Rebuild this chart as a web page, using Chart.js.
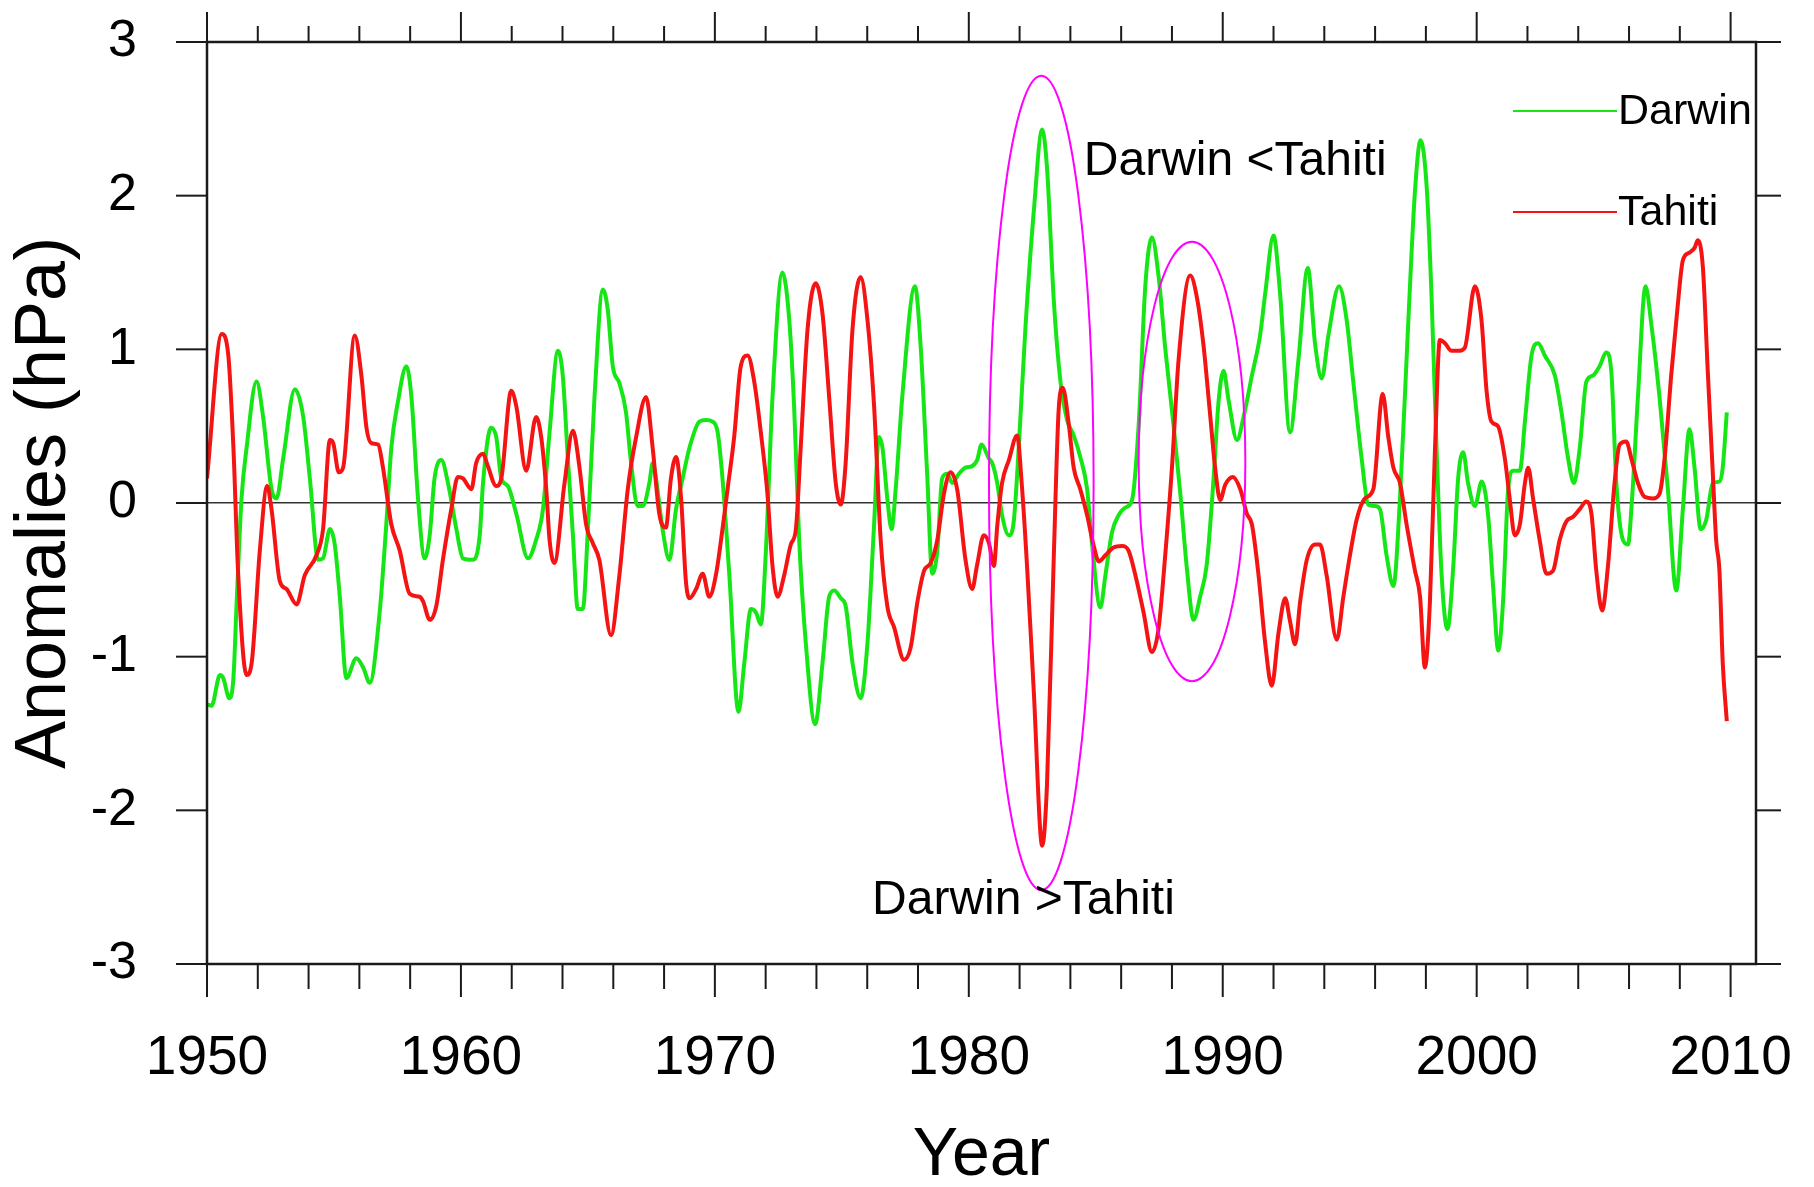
<!DOCTYPE html>
<html>
<head>
<meta charset="utf-8">
<script src="https://cdn.jsdelivr.net/npm/chart.js@4.4.1/dist/chart.umd.min.js"></script>
<style>
  html, body { margin: 0; padding: 0; background: #fff; }
  #wrap { width: 1814px; height: 1187px; }
</style>
</head>
<body>
<div id="wrap"><canvas id="chart" width="1814" height="1187"></canvas></div>
<script>
const FONT = "'Liberation Sans', Arial, Helvetica, sans-serif";

const xTicks = [1950, 1960, 1970, 1980, 1990, 2000, 2010];
const yTicks = [-3, -2, -1, 0, 1, 2, 3];

// Darwin sea level pressure anomaly (hPa)
const darwinYears = [
  1950.0, 1950.18, 1950.51, 1950.64, 1950.88, 1951.04, 1951.17, 1951.36, 1951.56, 1951.95,
  1952.21, 1952.54, 1952.74, 1953.0, 1953.46, 1953.79, 1954.05, 1954.38, 1954.57, 1954.84,
  1955.03, 1955.23, 1955.49, 1955.88, 1956.15, 1956.41, 1956.8, 1957.06, 1957.26, 1957.52,
  1957.85, 1958.05, 1958.31, 1958.57, 1958.77, 1958.96, 1959.23, 1959.49, 1959.82, 1960.08,
  1960.47, 1960.74, 1960.87, 1961.19, 1961.39, 1961.59, 1961.85, 1962.18, 1962.64, 1962.96,
  1963.23, 1963.49, 1963.82, 1964.01, 1964.21, 1964.41, 1964.6, 1964.8, 1965.0, 1965.26,
  1965.59, 1965.78, 1965.98, 1966.24, 1966.5, 1966.7, 1966.96, 1967.16, 1967.42, 1967.55,
  1967.68, 1967.94, 1968.21, 1968.47, 1968.73, 1969.0, 1969.39, 1969.65, 1969.91, 1970.11,
  1970.3, 1970.57, 1970.93, 1971.16, 1971.42, 1971.61, 1971.81, 1972.01, 1972.27, 1972.66,
  1972.93, 1973.12, 1973.32, 1973.58, 1973.95, 1974.24, 1974.5, 1974.7, 1974.96, 1975.15,
  1975.42, 1975.74, 1976.01, 1976.27, 1976.46, 1976.6, 1976.79, 1976.96, 1977.12, 1977.38,
  1977.88, 1978.1, 1978.36, 1978.56, 1978.76, 1978.95, 1979.15, 1979.35, 1979.61, 1979.87,
  1980.13, 1980.33, 1980.5, 1980.79, 1980.92, 1981.12, 1981.31, 1981.58, 1981.77, 1981.97,
  1982.23, 1982.56, 1982.89, 1983.08, 1983.35, 1983.61, 1983.87, 1984.13, 1984.39, 1984.66,
  1984.85, 1985.18, 1985.38, 1985.64, 1985.9, 1986.16, 1986.43, 1986.69, 1986.95, 1987.21,
  1987.47, 1987.74, 1988.06, 1988.33, 1988.59, 1988.85, 1989.11, 1989.37, 1989.64, 1989.83,
  1990.03, 1990.23, 1990.56, 1990.82, 1991.15, 1991.47, 1991.67, 1992.0, 1992.26, 1992.65,
  1992.98, 1993.35, 1993.64, 1993.9, 1994.16, 1994.58, 1994.88, 1995.14, 1995.47, 1995.73,
  1995.99, 1996.19, 1996.45, 1996.72, 1996.98, 1997.31, 1997.57, 1997.79, 1998.03, 1998.22,
  1998.42, 1998.62, 1998.85, 1999.08, 1999.27, 1999.47, 1999.66, 1999.93, 2000.2, 2000.45,
  2000.65, 2000.85, 2001.04, 2001.24, 2001.44, 2001.7, 2001.9, 2002.16, 2002.42, 2002.68,
  2003.08, 2003.34, 2003.6, 2003.83, 2004.06, 2004.32, 2004.58, 2004.84, 2005.1, 2005.3,
  2005.5, 2005.76, 2005.96, 2006.12, 2006.35, 2006.65, 2006.88, 2007.2, 2007.53, 2007.86,
  2008.12, 2008.38, 2008.58, 2008.82, 2009.04, 2009.3, 2009.56, 2009.69, 2009.85
];
const darwinValues = [
  -1.31, -1.32, -1.12, -1.14, -1.27, -1.14, -0.64, 0.03, 0.36, 0.79,
  0.56, 0.09, 0.03, 0.29, 0.74, 0.56, 0.16, -0.37, -0.36, -0.17,
  -0.27, -0.61, -1.14, -1.01, -1.07, -1.17, -0.71, -0.14, 0.36, 0.66,
  0.89, 0.69, 0.03, -0.36, -0.21, 0.16, 0.28, 0.13, -0.17, -0.36,
  -0.37, -0.21, 0.13, 0.49, 0.43, 0.16, 0.11, -0.07, -0.36, -0.24,
  -0.04, 0.46, 0.99, 0.83, 0.29, -0.21, -0.69, -0.69, -0.17, 0.69,
  1.39, 1.26, 0.89, 0.78, 0.59, 0.26, -0.02, -0.02, 0.13, 0.26,
  0.16, -0.17, -0.37, -0.04, 0.16, 0.36, 0.53, 0.54, 0.53, 0.46,
  0.16, -0.47, -1.36, -1.04, -0.69, -0.71, -0.79, -0.31, 0.69, 1.50,
  1.19, 0.63, -0.24, -0.91, -1.44, -1.04, -0.61, -0.57, -0.62, -0.67,
  -1.04, -1.27, -0.91, -0.14, 0.43, 0.36, 0.03, -0.17, 0.09, 0.69,
  1.41, 1.03, 0.19, -0.46, -0.31, 0.16, 0.19, 0.13, 0.19, 0.23,
  0.24, 0.28, 0.38, 0.29, 0.26, 0.13, -0.08, -0.21, -0.12, 0.37,
  1.14, 1.90, 2.43, 2.18, 1.31, 0.79, 0.54, 0.44, 0.30, 0.09,
  -0.26, -0.68, -0.47, -0.19, -0.08, -0.03, 0.02, 0.51, 1.41, 1.73,
  1.48, 1.00, 0.51, 0.06, -0.43, -0.76, -0.61, -0.40, 0.16, 0.65,
  0.86, 0.67, 0.41, 0.56, 0.83, 1.09, 1.36, 1.74, 1.36, 0.46,
  0.93, 1.53, 1.03, 0.81, 1.09, 1.41, 1.19, 0.79, 0.29, -0.01,
  -0.02, -0.04, -0.34, -0.54, 0.03, 1.19, 2.03, 2.36, 2.06, 1.36,
  0.36, -0.47, -0.82, -0.41, 0.16, 0.33, 0.13, -0.02, 0.14, -0.08,
  -0.55, -0.96, -0.64, 0.09, 0.21, 0.21, 0.53, 0.96, 1.04, 0.96,
  0.83, 0.59, 0.29, 0.13, 0.36, 0.79, 0.83, 0.89, 0.98, 0.86,
  0.13, -0.24, -0.27, 0.03, 0.69, 1.41, 1.16, 0.69, 0.09, -0.57,
  -0.04, 0.48, 0.23, -0.17, -0.11, 0.13, 0.14, 0.23, 0.59
];

// Tahiti sea level pressure anomaly (hPa)
const tahitiYears = [
  1950.0, 1950.58, 1950.84, 1951.04, 1951.23, 1951.56, 1951.76, 1952.08, 1952.37, 1952.54,
  1952.87, 1953.13, 1953.53, 1953.85, 1954.31, 1954.57, 1954.84, 1954.97, 1955.19, 1955.36,
  1955.82, 1956.08, 1956.28, 1956.47, 1956.74, 1956.93, 1957.26, 1957.59, 1957.98, 1958.37,
  1958.51, 1958.77, 1959.03, 1959.29, 1959.62, 1959.88, 1960.08, 1960.41, 1960.6, 1960.87,
  1961.06, 1961.39, 1961.59, 1961.98, 1962.18, 1962.57, 1962.96, 1963.16, 1963.36, 1963.49,
  1963.68, 1964.08, 1964.41, 1964.67, 1964.93, 1965.19, 1965.45, 1965.91, 1966.24, 1966.57,
  1966.9, 1967.29, 1967.55, 1967.81, 1968.07, 1968.27, 1968.47, 1968.67, 1968.86, 1969.0,
  1969.26, 1969.52, 1969.78, 1970.04, 1970.3, 1970.5, 1970.76, 1971.02, 1971.29, 1971.55,
  1971.81, 1972.07, 1972.27, 1972.47, 1972.73, 1972.99, 1973.19, 1973.38, 1973.65, 1973.97,
  1974.24, 1974.5, 1974.76, 1974.96, 1975.15, 1975.42, 1975.74, 1976.01, 1976.27, 1976.53,
  1976.79, 1977.06, 1977.45, 1977.71, 1977.98, 1978.24, 1978.5, 1978.76, 1979.02, 1979.28,
  1979.54, 1979.87, 1980.13, 1980.33, 1980.59, 1980.79, 1980.99, 1981.12, 1981.31, 1981.58,
  1981.9, 1982.1, 1982.3, 1982.56, 1982.89, 1983.08, 1983.35, 1983.54, 1983.7, 1983.94,
  1984.13, 1984.39, 1984.66, 1984.92, 1985.12, 1985.38, 1985.7, 1986.03, 1986.29, 1986.56,
  1986.88, 1987.21, 1987.47, 1987.74, 1988.0, 1988.26, 1988.72, 1988.98, 1989.24, 1989.5,
  1989.7, 1989.9, 1990.1, 1990.4, 1990.69, 1990.95, 1991.15, 1991.41, 1991.67, 1991.93,
  1992.2, 1992.46, 1992.65, 1992.85, 1993.05, 1993.31, 1993.64, 1993.83, 1994.09, 1994.49,
  1994.75, 1995.01, 1995.27, 1995.6, 1995.93, 1996.3, 1996.52, 1996.72, 1996.98, 1997.24,
  1997.57, 1997.77, 1997.96, 1998.16, 1998.36, 1998.55, 1998.75, 1999.01, 1999.27, 1999.53,
  1999.93, 2000.19, 2000.39, 2000.58, 2000.84, 2001.11, 2001.3, 2001.5, 2001.7, 2001.9,
  2002.03, 2002.22, 2002.48, 2002.75, 2003.01, 2003.27, 2003.53, 2003.8, 2004.06, 2004.32,
  2004.52, 2004.71, 2004.94, 2005.17, 2005.43, 2005.63, 2005.89, 2006.09, 2006.35, 2006.61,
  2006.94, 2007.2, 2007.4, 2007.66, 2007.92, 2008.12, 2008.38, 2008.58, 2008.71, 2008.91,
  2009.1, 2009.3, 2009.43, 2009.56, 2009.69, 2009.85
];
const tahitiValues = [
  0.16, 1.10, 0.96, 0.36, -0.47, -1.12, -1.04, -0.31, 0.11, -0.04,
  -0.51, -0.56, -0.66, -0.47, -0.34, -0.17, 0.41, 0.39, 0.20, 0.23,
  1.09, 0.83, 0.49, 0.39, 0.38, 0.23, -0.14, -0.31, -0.59, -0.61,
  -0.64, -0.76, -0.67, -0.37, -0.04, 0.17, 0.16, 0.09, 0.26, 0.32,
  0.24, 0.11, 0.16, 0.73, 0.63, 0.21, 0.56, 0.43, 0.09, -0.24,
  -0.39, 0.13, 0.47, 0.23, -0.14, -0.26, -0.37, -0.86, -0.47, 0.09,
  0.43, 0.69, 0.36, -0.07, -0.16, 0.16, 0.30, 0.03, -0.51, -0.62,
  -0.56, -0.46, -0.61, -0.47, -0.17, 0.09, 0.43, 0.89, 0.96, 0.79,
  0.46, 0.06, -0.41, -0.61, -0.47, -0.27, -0.17, 0.36, 1.13, 1.43,
  1.23, 0.69, 0.13, -0.01, 0.26, 1.13, 1.47, 1.19, 0.63, -0.24,
  -0.67, -0.81, -1.02, -0.94, -0.64, -0.44, -0.39, -0.24, 0.06, 0.20,
  0.09, -0.37, -0.56, -0.40, -0.21, -0.26, -0.41, -0.15, 0.13, 0.28,
  0.44, 0.09, -0.43, -1.23, -2.23, -1.83, -0.33, 0.61, 0.75, 0.51,
  0.23, 0.09, -0.08, -0.28, -0.38, -0.34, -0.29, -0.28, -0.31, -0.47,
  -0.71, -0.97, -0.82, -0.33, 0.23, 0.93, 1.48, 1.34, 1.03, 0.58,
  0.23, 0.02, 0.12, 0.17, 0.09, -0.07, -0.14, -0.47, -0.91, -1.19,
  -0.84, -0.62, -0.77, -0.92, -0.64, -0.37, -0.27, -0.27, -0.47, -0.89,
  -0.61, -0.34, -0.11, 0.03, 0.09, 0.71, 0.43, 0.23, 0.13, -0.14,
  -0.44, -0.61, -1.07, -0.64, 0.36, 1.06, 1.04, 0.99, 0.99, 1.01,
  1.41, 1.19, 0.73, 0.53, 0.50, 0.29, 0.03, -0.21, -0.14, 0.13,
  0.23, 0.03, -0.24, -0.46, -0.44, -0.24, -0.12, -0.09, -0.04, 0.01,
  -0.07, -0.44, -0.70, -0.41, 0.13, 0.38, 0.40, 0.29, 0.13, 0.04,
  0.03, 0.06, 0.29, 0.83, 1.29, 1.58, 1.63, 1.66, 1.71, 1.53,
  0.86, 0.19, -0.24, -0.44, -1.04, -1.42
];

// annotations, in data units
const notes = [
  { text: 'Darwin <Tahiti', x: 1984.53, y: 2.22 },
  { text: 'Darwin >Tahiti', x: 1976.19, y: -2.59 }
];
const rings = [
  { x: 1982.855, y: 0.13, rx: 2.06, ry: 2.65 },
  { x: 1988.79, y: 0.27, rx: 2.10, ry: 1.43 }
];

function toPoints(xs, ys) {
  return xs.map((t, i) => ({ x: t, y: ys[i] }));
}

function drawLine(ctx, x1, y1, x2, y2) {
  ctx.beginPath();
  ctx.moveTo(x1, y1);
  ctx.lineTo(x2, y2);
  ctx.stroke();
}

// frame, outward ticks, ellipses, notes and the legend
const nclFrame = {
  id: 'nclFrame',
  afterDatasetsDraw(chart) {
    const { ctx, chartArea: a, scales: { x, y } } = chart;
    ctx.save();

    ctx.strokeStyle = '#ff00ff';
    ctx.lineWidth = 2;
    rings.forEach(r => {
      const cx = x.getPixelForValue(r.x);
      const cy = y.getPixelForValue(r.y);
      const rx = x.getPixelForValue(r.x + r.rx) - cx;
      const ry = cy - y.getPixelForValue(r.y + r.ry);
      ctx.beginPath();
      ctx.ellipse(cx, cy, rx, ry, 0, 0, Math.PI * 2);
      ctx.stroke();
    });

    ctx.fillStyle = '#000';
    ctx.font = '48px ' + FONT;
    ctx.textAlign = 'left';
    ctx.textBaseline = 'middle';
    notes.forEach(n => ctx.fillText(n.text, x.getPixelForValue(n.x), y.getPixelForValue(n.y)));

    ctx.strokeStyle = '#1a1a1a';
    ctx.lineWidth = 2.5;
    ctx.strokeRect(a.left, a.top, a.right - a.left, a.bottom - a.top);

    ctx.lineWidth = 2;
    for (let yr = xTicks[0]; yr <= xTicks[xTicks.length - 1]; yr += 2) {
      const px = x.getPixelForValue(yr);
      const major = yr % 10 === 0;
      drawLine(ctx, px, a.bottom, px, a.bottom + (major ? 33 : 25));
      drawLine(ctx, px, a.top, px, a.top - (major ? 30 : 16));
    }
    yTicks.forEach(v => {
      const py = y.getPixelForValue(v);
      drawLine(ctx, a.left - 31, py, a.left, py);
      drawLine(ctx, a.right, py, a.right + 25, py);
    });

    // legend
    ctx.font = '43px ' + FONT;
    chart.data.datasets.slice().reverse().forEach((ds, i) => {
      const ly = 111 + i * 101;
      ctx.strokeStyle = ds.borderColor;
      ctx.lineWidth = 2;
      drawLine(ctx, 1513, ly, 1617, ly);
      ctx.fillText(ds.label, 1618, ly + 1);
    });

    ctx.restore();
  }
};

new Chart(document.getElementById('chart'), {
  type: 'line',
  data: {
    datasets: [
      {
        label: 'Tahiti',
        data: toPoints(tahitiYears, tahitiValues),
        borderColor: '#f41414',
        borderWidth: 4,
        pointRadius: 0,
        cubicInterpolationMode: 'monotone',
        fill: false
      },
      {
        label: 'Darwin',
        data: toPoints(darwinYears, darwinValues),
        borderColor: '#16e616',
        borderWidth: 4,
        pointRadius: 0,
        cubicInterpolationMode: 'monotone',
        fill: false
      }
    ]
  },
  options: {
    responsive: false,
    animation: false,
    layout: { padding: { top: 42, right: 58, left: 0, bottom: 0 } },
    plugins: {
      legend: { display: false },
      tooltip: { enabled: false }
    },
    scales: {
      x: {
        type: 'linear',
        min: 1950,
        max: 2011,
        afterBuildTicks: s => { s.ticks = xTicks.map(v => ({ value: v })); },
        afterFit: s => {
          s.height = 223;
          s.paddingLeft = 0;
          s.paddingRight = 0;
        },
        grid: { display: false, drawTicks: false },
        border: { display: false },
        ticks: {
          color: '#000',
          font: { family: FONT, size: 55 },
          padding: 62,
          maxRotation: 0,
          autoSkip: false,
          callback: v => String(v)
        },
        title: {
          display: true,
          text: 'Year',
          color: '#000',
          font: { family: FONT, size: 68, lineHeight: 0.9 },
          padding: 0
        }
      },
      y: {
        type: 'linear',
        min: -3,
        max: 3,
        afterBuildTicks: s => { s.ticks = yTicks.map(v => ({ value: v })); },
        afterFit: s => {
          s.width = 207;
          s.paddingTop = 0;
          s.paddingBottom = 0;
        },
        grid: {
          drawTicks: false,
          color: c => (c.tick && c.tick.value === 0 ? '#333' : 'rgba(0,0,0,0)'),
          lineWidth: 1.5
        },
        border: { display: false },
        ticks: {
          color: '#000',
          font: { family: FONT, size: 52 },
          padding: 70,
          callback: v => String(v)
        },
        title: {
          display: true,
          text: 'Anomalies (hPa)',
          color: '#000',
          font: { family: FONT, size: 72, lineHeight: 1 },
          padding: { top: 9, bottom: 0 }
        }
      }
    }
  },
  plugins: [nclFrame]
});
</script>
</body>
</html>
